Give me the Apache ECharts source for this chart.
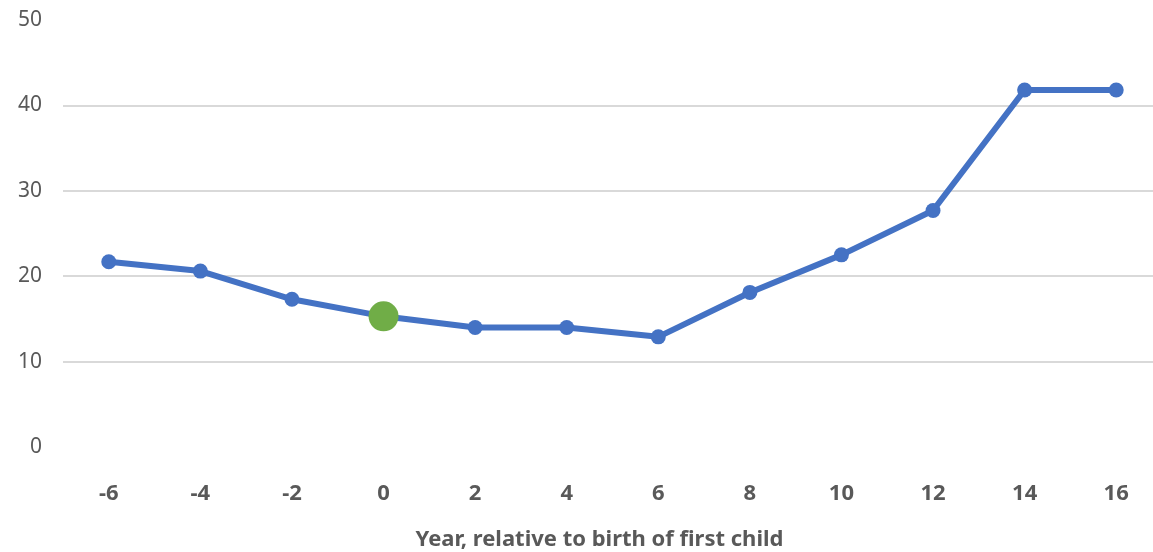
<!DOCTYPE html>
<html><head><meta charset="utf-8">
<script src="https://cdn.jsdelivr.net/npm/echarts@6/dist/echarts.min.js"></script>
<style>html,body{margin:0;padding:0;background:#fff}#c{width:1153px;height:552px}</style>
</head><body><div id="c"></div>
<script>
const years = ['-6','-4','-2','0','2','4','6','8','10','12','14','16'];
const values = [21.7, 20.6, 17.3, 15.3, 14.0, 14.0, 12.9, 18.1, 22.5, 27.7, 41.8, 41.8];
const highlightYear = '0';
const axisTitle = 'Year, relative to birth of first child';

const chart = echarts.init(document.getElementById('c'), null, {renderer: 'canvas'});
const ff = '"Source Sans Pro","Noto Sans","Open Sans",sans-serif';
chart.setOption({
  animation: false,
  grid: {left: 63, right: -9, top: 20, bottom: 105, containLabel: false, outerBoundsMode: 'none'},
  xAxis: {
    type: 'category', data: years, boundaryGap: true,
    axisLine: {show: false}, axisTick: {show: false},
    axisLabel: {margin: 36, color: '#595959', fontSize: 22, fontWeight: 'bold', fontFamily: ff},
    name: axisTitle, nameLocation: 'middle', nameGap: 82,
    nameTextStyle: {color: '#595959', fontSize: 22, fontWeight: 'bold', fontFamily: ff, padding: [0, 26, 0, 0]}
  },
  yAxis: {
    type: 'value', min: 0, max: 50, interval: 10,
    axisLine: {show: false}, axisTick: {show: false},
    axisLabel: {margin: 21, color: '#595959', fontSize: 21, fontFamily: ff},
    splitLine: {lineStyle: {color: ['transparent','#d9d9d9','#d9d9d9','#d9d9d9','#d9d9d9','transparent'], width: 2}}
  },
  series: [{
    type: 'line', data: values.map((v, i) => years[i] === highlightYear ?
      {value: v, symbolSize: 30, itemStyle: {color: '#70ad47'}} : v),
    symbol: 'circle', symbolSize: 15,
    lineStyle: {color: '#4472c4', width: 6},
    itemStyle: {color: '#4472c4'}
  }]
});
</script></body></html>
